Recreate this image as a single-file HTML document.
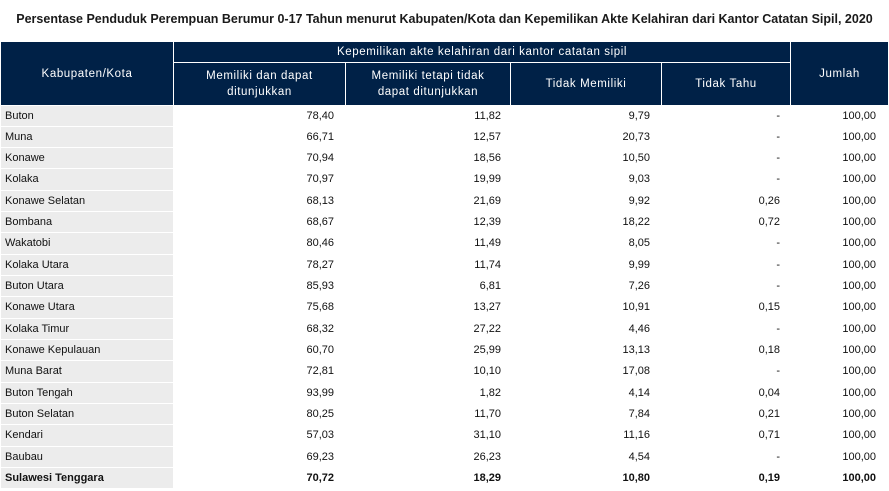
<!DOCTYPE html>
<html><head><meta charset="utf-8"><style>
body{margin:0;width:889px;height:491px;background:#fff;font-family:"Liberation Sans",sans-serif;position:relative;overflow:hidden}
.t{position:absolute;left:0;width:889px;top:12px;text-align:center;font-size:12.5px;font-weight:bold;color:#1a1a1a}
.h{position:absolute;background:#002147;color:#fff;font-size:11.5px;text-align:center;display:flex;align-items:center;justify-content:center;letter-spacing:0.6px;line-height:16px}
.r{position:absolute;left:0;width:889px;height:21.33px;font-size:11px;color:#111}
.r div{position:absolute;top:0;height:20.3px;line-height:20.3px}
.c0{left:1px;width:172px;background:#ececec;padding-left:4px;box-sizing:border-box}
.n{text-align:right}
</style></head><body>
<div class="t">Persentase Penduduk Perempuan Berumur 0-17 Tahun menurut Kabupaten/Kota dan Kepemilikan Akte Kelahiran dari Kantor Catatan Sipil, 2020</div>
<div class="h" style="left:1px;top:42px;width:172px;height:63px">Kabupaten/Kota</div>
<div class="h" style="left:174px;top:42px;width:616px;height:20px">Kepemilikan akte kelahiran dari kantor catatan sipil</div>
<div class="h" style="left:791px;top:42px;width:97px;height:63px">Jumlah</div>
<div class="h" style="left:174px;top:63px;width:171px;height:42px">Memiliki dan dapat<br>ditunjukkan</div>
<div class="h" style="left:346px;top:63px;width:164px;height:42px">Memiliki tetapi tidak<br>dapat ditunjukkan</div>
<div class="h" style="left:511px;top:63px;width:150px;height:42px">Tidak Memiliki</div>
<div class="h" style="left:662px;top:63px;width:128px;height:42px">Tidak Tahu</div>
<div id="rows"></div>
<script>
var d=[["Buton","78,40","11,82","9,79","-"],["Muna","66,71","12,57","20,73","-"],["Konawe","70,94","18,56","10,50","-"],["Kolaka","70,97","19,99","9,03","-"],["Konawe Selatan","68,13","21,69","9,92","0,26"],["Bombana","68,67","12,39","18,22","0,72"],["Wakatobi","80,46","11,49","8,05","-"],["Kolaka Utara","78,27","11,74","9,99","-"],["Buton Utara","85,93","6,81","7,26","-"],["Konawe Utara","75,68","13,27","10,91","0,15"],["Kolaka Timur","68,32","27,22","4,46","-"],["Konawe Kepulauan","60,70","25,99","13,13","0,18"],["Muna Barat","72,81","10,10","17,08","-"],["Buton Tengah","93,99","1,82","4,14","0,04"],["Buton Selatan","80,25","11,70","7,84","0,21"],["Kendari","57,03","31,10","11,16","0,71"],["Baubau","69,23","26,23","4,54","-"],["Sulawesi Tenggara","70,72","18,29","10,80","0,19"]];
var h="";
d.forEach(function(r,i){var b=i==17?"font-weight:bold;":"";
h+='<div class="r" style="top:'+(105.5+i*21.33)+'px;'+b+'"><div class="c0">'+r[0]+'</div>'+
'<div class="n" style="left:174px;width:160px">'+r[1]+'</div>'+
'<div class="n" style="left:346px;width:155px">'+r[2]+'</div>'+
'<div class="n" style="left:511px;width:139px">'+r[3]+'</div>'+
'<div class="n" style="left:662px;width:118px">'+r[4]+'</div>'+
'<div class="n" style="left:791px;width:85px">100,00</div></div>';});
document.getElementById("rows").innerHTML=h;
</script>
</body></html>
